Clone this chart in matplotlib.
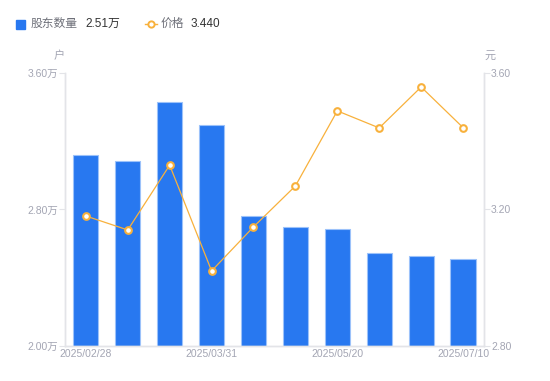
import matplotlib
matplotlib.use("Agg")
import matplotlib.pyplot as plt
from matplotlib.lines import Line2D

plt.rcParams['font.family'] = ['Liberation Sans', 'Noto Sans CJK SC', 'DejaVu Sans']

# data
dates = ["2025/02/28", "2025/03/10", "2025/03/20", "2025/03/31", "2025/04/10",
         "2025/04/30", "2025/05/20", "2025/06/10", "2025/06/30", "2025/07/10"]
holders = [3.12, 3.085, 3.43, 3.295, 2.762, 2.698, 2.686, 2.545, 2.528, 2.51]  # 万户
price = [3.181, 3.140, 3.330, 3.020, 3.149, 3.269, 3.489, 3.439, 3.559, 3.440]  # 元
left_ticks = [2.00, 2.80, 3.60]
right_ticks = [2.80, 3.20, 3.60]

BLUE = "#2878F0"
ORANGE = "#F8B13C"
TICK = "#A3A5B3"
AXIS = "#E3E4E8"

fig = plt.figure(figsize=(5.5, 3.81), dpi=100)
ax = fig.add_axes([0.118, 0.0919, 0.762, 0.7165])
ax2 = ax.twinx()

x = list(range(len(dates)))
ax.bar(x, holders, width=0.6, color=BLUE, edgecolor="#9CC2FA", linewidth=0.8,
       bottom=0, zorder=2)
ax.set_ylim(left_ticks[0], left_ticks[-1])
ax.set_xlim(-0.5, len(dates) - 0.5)
ax.set_yticks(left_ticks)
ax.set_yticklabels([f"{v:.2f}万" for v in left_ticks])
show = [0, 3, 6, 9]
ax.set_xticks(show)
ax.set_xticklabels([dates[i] for i in show])

ax2.plot(x, price, color=ORANGE, lw=0.9, marker="o", ms=4.8,
         mfc="white", mec=ORANGE, mew=1.5, zorder=3)
ax2.set_ylim(right_ticks[0], right_ticks[-1])
ax2.set_yticks(right_ticks)
ax2.set_yticklabels([f"{v:.2f}" for v in right_ticks])

for a in (ax, ax2):
    a.spines["top"].set_visible(False)
    for s in ("left", "right", "bottom"):
        a.spines[s].set_color(AXIS)
        a.spines[s].set_linewidth(1.0)
    a.tick_params(axis="y", colors=AXIS, labelcolor=TICK, labelsize=7.5,
                  length=4, width=0.8, pad=1)
ax.tick_params(axis="x", length=0, labelcolor=TICK, labelsize=7.5, pad=2)
ax2.tick_params(axis="x", length=0)

fig.text(59 / 550, 1 - 56 / 381, "户", color=TICK, fontsize=8, ha="center", va="center")
fig.text(490 / 550, 1 - 56 / 381, "元", color=TICK, fontsize=8, ha="center", va="center")

# legend row
fig.patches.append(plt.Rectangle((16 / 550, 1 - 29 / 381), 9 / 550, 9 / 381,
                                 transform=fig.transFigure, color=BLUE))
fig.text(31 / 550, 1 - 24 / 381, "股东数量", color="#6E7079", fontsize=8.5, va="center")
fig.text(85 / 550, 1 - 24 / 381, f"{holders[-1]:.2f}万", color="#333333", fontsize=8.5, va="center")
fig.lines.append(Line2D([145 / 550, 157 / 550], [1 - 24 / 381] * 2, transform=fig.transFigure,
                        color=ORANGE, lw=1))
fig.lines.append(Line2D([151 / 550], [1 - 24 / 381], transform=fig.transFigure,
                        color=ORANGE, marker="o", ms=4.5, mfc="white", mew=1.4, lw=0))
fig.text(161 / 550, 1 - 24 / 381, "价格", color="#6E7079", fontsize=8.5, va="center")
fig.text(191 / 550, 1 - 24 / 381, f"{price[-1]:.3f}", color="#333333", fontsize=8.5, va="center")

fig.savefig("out.png", dpi=100)
